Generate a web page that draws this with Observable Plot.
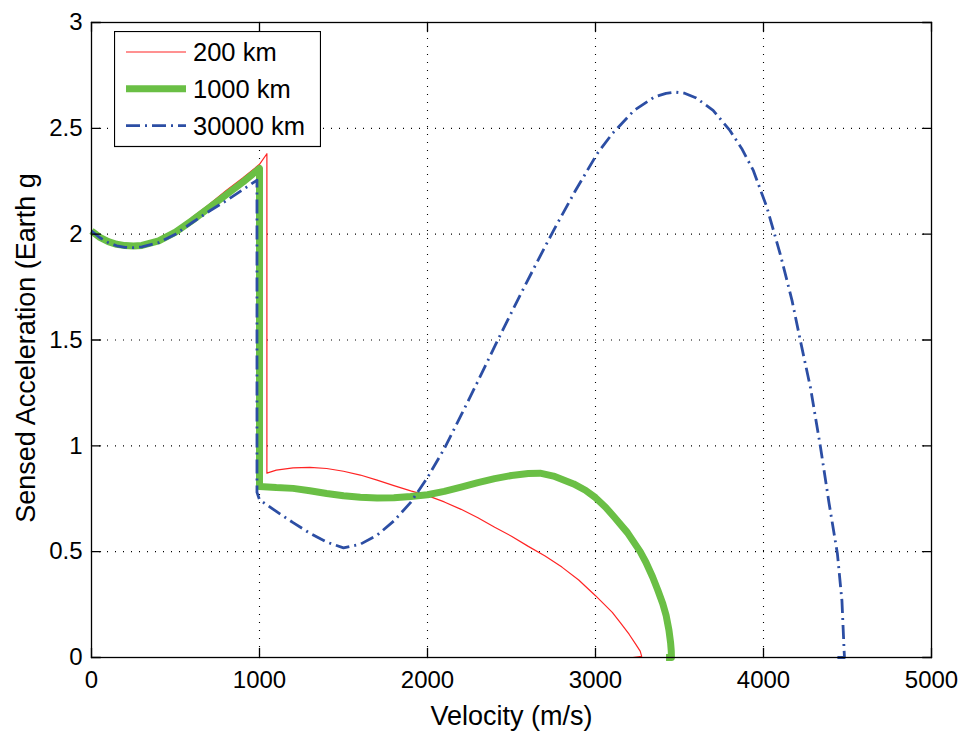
<!DOCTYPE html>
<html>
<head>
<meta charset="utf-8">
<script src="https://cdn.jsdelivr.net/npm/d3@7"></script>
<script src="https://cdn.jsdelivr.net/npm/@observablehq/plot@0.6"></script>
<style>
  body { margin: 0; background: #fff; }
  #wrap { position: relative; width: 965px; height: 734px; font-family: "Liberation Sans", Arial, Helvetica, sans-serif; }
  #wrap svg { display: block; }
</style>
</head>
<body>
<div id="wrap"></div>
<script>
// ---- data ----
const vel200 = [0, 50, 100, 150, 200, 250, 300, 400, 500, 600, 700, 800, 900, 1000, 1044, 1044,
  1100, 1200, 1300, 1400, 1500, 1600, 1700, 1800, 1900, 2000, 2100, 2200, 2300, 2400, 2500, 2600,
  2700, 2800, 2900, 3000, 3100, 3150, 3200, 3240, 3266, 3275, 3222];
const acc200 = [2.02, 1.99, 1.968, 1.955, 1.948, 1.946, 1.95, 1.973, 2.017, 2.08, 2.14, 2.205, 2.265, 2.33, 2.38, 0.871,
  0.885, 0.896, 0.898, 0.893, 0.88, 0.862, 0.838, 0.812, 0.787, 0.765, 0.735, 0.70, 0.66, 0.615, 0.573, 0.525,
  0.48, 0.427, 0.366, 0.292, 0.213, 0.162, 0.11, 0.062, 0.03, 0.005, 0];

const vel1000 = [0, 50, 100, 150, 200, 250, 300, 400, 500, 600, 700, 800, 900, 1000, 1000, 1050,
  1100, 1200, 1300, 1400, 1500, 1600, 1700, 1800, 1900, 2000, 2100, 2200, 2300, 2400, 2500, 2600,
  2670, 2750, 2870, 2940, 3000, 3060, 3110, 3190, 3266, 3300, 3340, 3370, 3400, 3420, 3437, 3447, 3451, 3452, 3420];
const acc1000 = [2.015, 1.985, 1.965, 1.952, 1.946, 1.944, 1.947, 1.968, 2.01, 2.065, 2.125, 2.185, 2.245, 2.31, 0.808, 0.806,
  0.803, 0.799, 0.788, 0.775, 0.764, 0.757, 0.753, 0.755, 0.761, 0.769, 0.785, 0.805, 0.826, 0.845, 0.86, 0.869,
  0.871, 0.857, 0.82, 0.79, 0.755, 0.71, 0.665, 0.59, 0.50, 0.45, 0.38, 0.32, 0.255, 0.2, 0.13, 0.07, 0.03, 0, 0];

const vel30000 = [0, 50, 100, 150, 200, 250, 300, 400, 500, 600, 700, 800, 900, 985, 985,
  1000, 1100, 1200, 1300, 1400, 1500, 1600, 1700, 1800, 1900, 2000, 2100, 2200, 2300, 2400,
  2530, 2650, 2750, 2880, 3010, 3100, 3230, 3350, 3420, 3475, 3530, 3600, 3700, 3800, 3870, 3940, 4020,
  4100, 4170, 4220, 4280, 4340, 4390, 4440, 4467, 4480, 4482, 4440];
const acc30000 = [2.015, 1.983, 1.96, 1.945, 1.938, 1.936, 1.94, 1.96, 2.0, 2.055, 2.108, 2.157, 2.21, 2.255, 0.78,
  0.745, 0.69, 0.637, 0.587, 0.545, 0.518, 0.535, 0.578, 0.645, 0.733, 0.85, 0.987, 1.145, 1.305, 1.47,
  1.678, 1.865, 2.017, 2.205, 2.38, 2.475, 2.585, 2.648, 2.665, 2.671, 2.666, 2.643, 2.585, 2.49, 2.405, 2.30, 2.127,
  1.905, 1.686, 1.495, 1.273, 0.99, 0.73, 0.49, 0.267, 0.03, 0, 0];

const seriesNames = ["200 km", "1000 km", "30000 km"];
const xTicks = [0, 1000, 2000, 3000, 4000, 5000];
const xTickLabels = ["0", "1000", "2000", "3000", "4000", "5000"];
const yTicks = [0, 0.5, 1, 1.5, 2, 2.5, 3];
const yTickLabels = ["0", "0.5", "1", "1.5", "2", "2.5", "3"];
const xGrid = [1000, 2000, 3000, 4000];
const yGrid = [0.5, 1, 1.5, 2, 2.5];
const xLabel = "Velocity (m/s)";
const yLabel = "Sensed Acceleration (Earth g";

// ---- styles ----
const seriesStyles = [
  {stroke: "#ff2424", strokeWidth: 1.2, strokeDasharray: null},
  {stroke: "#6abf45", strokeWidth: 7, strokeDasharray: null},
  {stroke: "#2c4ea4", strokeWidth: 2.8, strokeDasharray: "14,5,2,5"}
];

const table = (vs, as, name) => vs.map((v, i) => ({v, a: as[i], name}));
const series = [table(vel200, acc200, seriesNames[0]), table(vel1000, acc1000, seriesNames[1]), table(vel30000, acc30000, seriesNames[2])];

const tickShape = {draw(ctx, l) { ctx.moveTo(0, 0); ctx.lineTo(0, -l); }};
const tickOpts = {length: 9, anchor: "start", shape: tickShape, stroke: "black", strokeWidth: 1.3};
const grid = {stroke: "black", strokeDasharray: "1,7", strokeWidth: 1.1, strokeOpacity: 1};

const chart = Plot.plot({
  width: 965,
  height: 734,
  marginTop: 22,
  marginRight: 34,
  marginBottom: 77,
  marginLeft: 91,
  x: {domain: [0, 5000], label: null},
  y: {domain: [0, 3], label: null},
  style: {fontFamily: '"Liberation Sans", Arial, Helvetica, sans-serif', background: "white", color: "black"},
  marks: [
    Plot.ruleX(xGrid, {x: d => d, ...grid}),
    Plot.ruleY(yGrid, {y: d => d, ...grid}),
    ...series.map((s, i) => Plot.line(s, {
      x: "v", y: "a",
      stroke: seriesStyles[i].stroke,
      strokeWidth: seriesStyles[i].strokeWidth,
      strokeDasharray: seriesStyles[i].strokeDasharray,
      strokeLinejoin: "round",
      strokeLinecap: "butt"
    })),
    Plot.frame({stroke: "black", strokeWidth: 1.3}),
    Plot.vector(xTicks, {x: d => d, y: 0, rotate: 0, ...tickOpts}),
    Plot.vector(xTicks, {x: d => d, y: 3, rotate: 180, ...tickOpts}),
    Plot.vector(yTicks, {x: 0, y: d => d, rotate: 90, ...tickOpts}),
    Plot.vector(yTicks, {x: 5000, y: d => d, rotate: -90, ...tickOpts}),
    Plot.axisX(xTicks, {tickSize: 0, tickPadding: 13, fontSize: 24, label: null,
      tickFormat: d => xTickLabels[xTicks.indexOf(d)]}),
    Plot.axisY(yTicks, {tickSize: 0, tickPadding: 9, fontSize: 24, label: null,
      tickFormat: d => yTickLabels[yTicks.indexOf(d)]}),
    Plot.text([xLabel], {text: d => d, frameAnchor: "bottom", dy: 67, fontSize: 27, lineAnchor: "bottom", textAnchor: "middle", fill: "black"}),
    Plot.text([yLabel], {text: d => d, frameAnchor: "left", rotate: -90, dx: -65, dy: 8, fontSize: 27, lineAnchor: "middle", textAnchor: "middle", fill: "black"})
  ]
});

const wrap = document.getElementById("wrap");
wrap.appendChild(chart);

// ---- legend (inside the plot area, top-left) ----
const leg = d3.create("svg")
  .attr("width", 207).attr("height", 117)
  .style("position", "absolute").style("left", "114px").style("top", "31px");
leg.append("rect").attr("x", 0.5).attr("y", 0.5).attr("width", 206).attr("height", 115)
  .attr("fill", "white").attr("stroke", "black").attr("stroke-width", 1.2);
seriesNames.forEach((name, i) => {
  const cy = 21 + i * 36.8;
  const st = seriesStyles[i];
  leg.append("line").attr("x1", 12).attr("x2", 72).attr("y1", cy).attr("y2", cy)
    .attr("stroke", st.stroke).attr("stroke-width", st.strokeWidth)
    .attr("stroke-dasharray", st.strokeDasharray);
  leg.append("text").attr("x", 79).attr("y", cy).attr("dy", "0.36em")
    .attr("font-size", 25.5).attr("fill", "black")
    .attr("font-family", '"Liberation Sans", Arial, Helvetica, sans-serif')
    .text(name);
});
wrap.appendChild(leg.node());
</script>
</body>
</html>
